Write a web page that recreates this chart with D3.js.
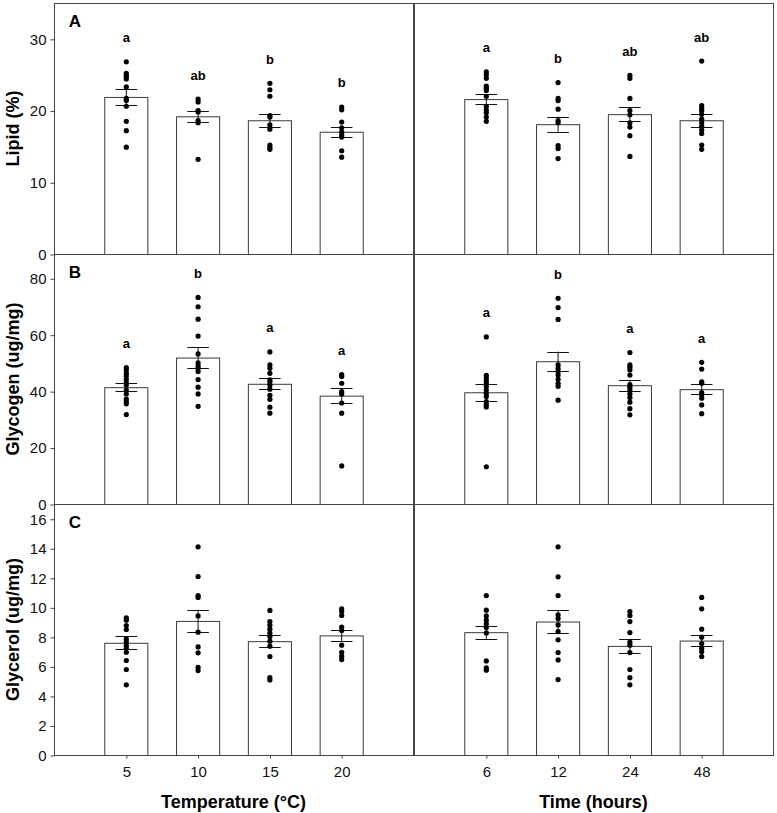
<!DOCTYPE html>
<html>
<head>
<meta charset="utf-8">
<script src="https://cdn.jsdelivr.net/npm/d3@7"></script>
<style>
  html, body { margin: 0; padding: 0; background: #fff; }
  svg { display: block; font-family: "Liberation Sans", Arial, sans-serif; }
</style>
</head>
<body>
<svg id="chart" width="777" height="813"></svg>
<script>
// ---------------- DATA ----------------
const tempCategories = ["5", "10", "15", "20"];
const timeCategories = ["6", "12", "24", "48"];

const rowTitles = ["Lipid (%)", "Glycogen (ug/mg)", "Glycerol (ug/mg)"];
const panelLetters = ["A", "B", "C"];
const lipidTicks = [0, 10, 20, 30];
const glycogenTicks = [0, 20, 40, 60, 80];
const glycerolTicks = [0, 2, 4, 6, 8, 10, 12, 14, 16];
const rowMax = [35, 88.6, 17];

// Lipid – temperature
const lipidTempMeans = [21.9, 19.2, 18.65, 17.05];
const lipidTempSE = [1.1, 0.8, 0.9, 0.7];
const lipidTempLetters = ["a", "ab", "b", "b"];
const lipidTempPoints = [
  [26.8, 25.2, 24.9, 24.7, 24.4, 23.3, 21.7, 21.4, 20.6, 18.5, 17.2, 14.9],
  [21.6, 21.2, 20.0, 19.8, 18.6, 18.3, 13.2],
  [23.8, 22.9, 22.0, 19.3, 19.1, 18.0, 17.4, 15.2, 14.9, 14.6],
  [20.5, 20.1, 18.4, 17.6, 17.0, 16.6, 16.3, 14.4, 13.5]
];
// Lipid – time
const lipidTimeMeans = [21.6, 18.1, 19.5, 18.65];
const lipidTimeSE = [0.7, 1.05, 1.0, 0.9];
const lipidTimeLetters = ["a", "b", "ab", "ab"];
const lipidTimePoints = [
  [25.4, 25.0, 24.5, 23.4, 23.1, 22.8, 22.0, 20.6, 20.1, 19.7, 19.1, 18.5],
  [23.9, 21.7, 21.4, 20.2, 18.6, 18.3, 15.1, 14.7, 13.3],
  [24.9, 24.5, 21.7, 20.0, 19.4, 18.3, 17.7, 16.5, 13.6],
  [26.9, 20.7, 20.3, 20.0, 19.5, 18.8, 18.3, 17.8, 17.3, 16.8, 15.2, 14.6]
];
// Glycogen – temperature
const glycogenTempMeans = [41.4, 51.9, 42.6, 38.4];
const glycogenTempSE = [1.5, 3.6, 2.0, 2.65];
const glycogenTempLetters = ["a", "b", "a", "a"];
const glycogenTempPoints = [
  [48.3, 47.5, 46.3, 45.4, 44.2, 43.0, 42.2, 40.4, 39.0, 37.2, 36.3, 35.5, 31.7],
  [73.2, 69.9, 65.5, 59.5, 53.2, 50.0, 48.9, 48.1, 47.0, 44.1, 41.4, 39.0, 34.6],
  [53.9, 49.3, 48.1, 46.3, 44.0, 43.3, 42.2, 40.7, 38.5, 37.1, 34.3, 32.2],
  [45.9, 45.2, 42.8, 39.8, 39.0, 35.8, 32.2, 13.5]
];
// Glycogen – time
const glycogenTimeMeans = [39.6, 50.6, 42.1, 40.7];
const glycogenTimeSE = [3.0, 3.4, 2.0, 1.75];
const glycogenTimeLetters = ["a", "b", "a", "a"];
const glycogenTimePoints = [
  [59.2, 45.6, 44.7, 43.7, 42.8, 41.6, 40.4, 39.2, 38.1, 36.3, 35.3, 34.4, 13.2],
  [72.9, 69.6, 65.4, 49.3, 48.0, 46.9, 45.7, 44.2, 42.8, 41.7, 36.8],
  [53.7, 49.3, 48.5, 47.5, 45.7, 42.3, 41.4, 40.4, 39.0, 37.7, 36.1, 33.8, 31.6],
  [50.2, 47.8, 43.3, 42.8, 39.5, 38.7, 37.5, 35.1, 32.0]
];
// Glycerol – temperature
const glycerolTempMeans = [7.6, 9.08, 7.71, 8.1];
const glycerolTempSE = [0.43, 0.76, 0.41, 0.38];
const glycerolTempLetters = ["", "", "", ""];
const glycerolTempPoints = [
  [9.29, 9.13, 8.77, 8.50, 7.86, 7.64, 7.41, 7.23, 6.96, 6.40, 5.79, 4.75],
  [14.1, 12.09, 10.80, 10.67, 9.42, 8.32, 7.32, 6.92, 5.94, 5.72],
  [9.79, 9.04, 8.79, 8.52, 8.25, 8.02, 7.71, 7.37, 6.67, 5.24, 5.08],
  [9.90, 9.72, 9.45, 8.66, 8.43, 7.44, 6.96, 6.69, 6.46]
];
// Glycerol – time
const glycerolTimeMeans = [8.32, 9.04, 7.39, 7.75];
const glycerolTimeSE = [0.45, 0.75, 0.47, 0.38];
const glycerolTimeLetters = ["", "", "", ""];
const glycerolTimePoints = [
  [10.8, 9.81, 9.42, 9.13, 8.88, 8.63, 8.27, 6.37, 5.90, 5.74],
  [14.1, 12.07, 10.8, 9.49, 9.24, 8.81, 8.36, 7.80, 6.94, 6.44, 5.11],
  [9.72, 9.45, 9.04, 8.29, 7.64, 7.44, 6.94, 5.79, 5.24, 4.75],
  [10.67, 9.90, 8.52, 7.98, 7.55, 7.23, 7.0, 6.67]
];

const xTitles = ["Temperature (°C)", "Time (hours)"];

// ---------------- LAYOUT ----------------
const svg = d3.select("#chart");
const colX = [[54, 413], [414, 773]];
const rowY = [[3, 254], [254, 504], [504, 755]];
const rowTicks = [lipidTicks, glycogenTicks, glycerolTicks];

const panels = [
  [ {cats: tempCategories, means: lipidTempMeans, se: lipidTempSE, pts: lipidTempPoints, letters: lipidTempLetters},
    {cats: timeCategories, means: lipidTimeMeans, se: lipidTimeSE, pts: lipidTimePoints, letters: lipidTimeLetters} ],
  [ {cats: tempCategories, means: glycogenTempMeans, se: glycogenTempSE, pts: glycogenTempPoints, letters: glycogenTempLetters},
    {cats: timeCategories, means: glycogenTimeMeans, se: glycogenTimeSE, pts: glycogenTimePoints, letters: glycogenTimeLetters} ],
  [ {cats: tempCategories, means: glycerolTempMeans, se: glycerolTempSE, pts: glycerolTempPoints, letters: glycerolTempLetters},
    {cats: timeCategories, means: glycerolTimeMeans, se: glycerolTimeSE, pts: glycerolTimePoints, letters: glycerolTimeLetters} ]
];

const frameColor = "#444";

panels.forEach((row, r) => {
  const [yTop, yBot] = rowY[r];
  const y = d3.scaleLinear().domain([0, rowMax[r]]).range([yBot, yTop]);

  row.forEach((p, c) => {
    const [x0, x1] = colX[c];
    const x = d3.scaleBand().domain(p.cats).range([x0, x1]).paddingInner(0.4).paddingOuter(0.7);
    const bw = x.bandwidth();
    const g = svg.append("g");

    // bars
    g.selectAll("rect.bar").data(p.means).enter().append("rect")
      .attr("x", (d, i) => x(p.cats[i]) + 0.5)
      .attr("y", d => y(d) + 0.5)
      .attr("width", bw)
      .attr("height", d => y(0) - y(d))
      .attr("fill", "#fff").attr("stroke", "#3a3a3a").attr("stroke-width", 1);

    // error bars
    p.means.forEach((m, i) => {
      const cx = x(p.cats[i]) + bw / 2 + 0.5;
      const cap = bw * 0.25;
      const eg = g.append("g").attr("stroke", "#111").attr("stroke-width", 1);
      eg.append("line").attr("x1", cx).attr("x2", cx).attr("y1", y(m + p.se[i])).attr("y2", y(m - p.se[i]));
      eg.append("line").attr("x1", cx - cap).attr("x2", cx + cap).attr("y1", Math.round(y(m + p.se[i])) + 0.5).attr("y2", Math.round(y(m + p.se[i])) + 0.5);
      eg.append("line").attr("x1", cx - cap).attr("x2", cx + cap).attr("y1", Math.round(y(m - p.se[i])) + 0.5).attr("y2", Math.round(y(m - p.se[i])) + 0.5);
    });

    // points
    p.pts.forEach((arr, i) => {
      const cx = x(p.cats[i]) + bw / 2 + 0.5;
      g.selectAll(null).data(arr).enter().append("circle")
        .attr("cx", cx).attr("cy", d => y(d)).attr("r", 2.6).attr("fill", "#000");
      // significance letters
      if (p.letters[i]) {
        g.append("text").attr("x", cx).attr("y", y(d3.max(arr)) - 24)
          .attr("text-anchor", "middle").attr("dominant-baseline", "central")
          .attr("font-size", 13).attr("font-weight", "bold").text(p.letters[i]);
      }
    });

    // frame
    g.append("rect").attr("x", x0 + 0.5).attr("y", yTop + 0.5)
      .attr("width", x1 - x0).attr("height", yBot - yTop)
      .attr("fill", "none").attr("stroke", frameColor).attr("stroke-width", 1);

    // left axis only on left column
    if (c === 0) {
      const ax = d3.axisLeft(y).tickValues(rowTicks[r]).tickSize(4).tickPadding(4).tickFormat(d3.format("d"));
      const axg = g.append("g").attr("transform", `translate(${x0 + 0.5},0.5)`).call(ax);
      axg.select(".domain").remove();
      axg.selectAll(".tick line").attr("stroke", frameColor);
      axg.selectAll(".tick text").attr("font-size", 15).attr("fill", "#111")
        .attr("font-family", "Liberation Sans, Arial, sans-serif");
      // panel letter
      g.append("text").attr("x", x0 + 21).attr("y", yTop + 18)
        .attr("text-anchor", "middle").attr("dominant-baseline", "central")
        .attr("font-size", 17).attr("font-weight", "bold").text(panelLetters[r]);
      // y title
      g.append("text")
        .attr("transform", `translate(13,${(yTop + yBot) / 2}) rotate(-90)`)
        .attr("text-anchor", "middle").attr("dominant-baseline", "central")
        .attr("font-size", 18).attr("font-weight", "bold").text(rowTitles[r]);
    }

    // bottom axis on last row
    if (r === rowY.length - 1) {
      const xc = d3.scalePoint().domain(p.cats).range([x(p.cats[0]) + bw / 2, x(p.cats[p.cats.length - 1]) + bw / 2]);
      const axb = d3.axisBottom(xc).tickSize(3).tickPadding(8);
      const bg = g.append("g").attr("transform", `translate(0.5,${yBot + 0.5})`).call(axb);
      bg.select(".domain").remove();
      bg.selectAll(".tick line").attr("stroke", frameColor);
      bg.selectAll(".tick text").attr("font-size", 15).attr("fill", "#111")
        .attr("font-family", "Liberation Sans, Arial, sans-serif");
      g.append("text").attr("x", (x0 + x1) / 2).attr("y", 802)
        .attr("text-anchor", "middle").attr("dominant-baseline", "central")
        .attr("font-size", 18).attr("font-weight", "bold").text(xTitles[c]);
    }
  });
});
</script>
</body>
</html>
